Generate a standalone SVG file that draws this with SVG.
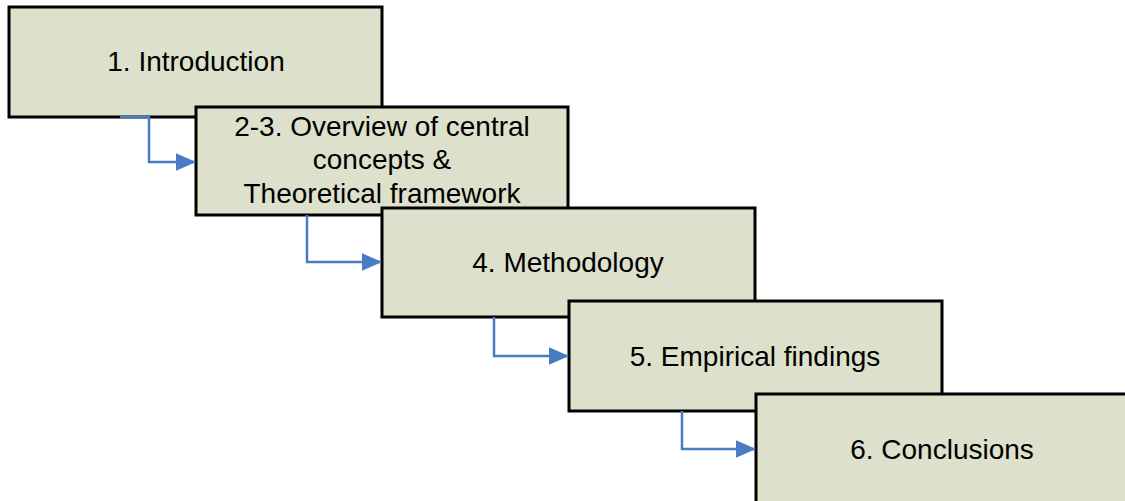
<svg xmlns="http://www.w3.org/2000/svg" width="1125" height="501" viewBox="0 0 1125 501">
  <style>
    .box { fill: #dde0cb; stroke: #000; stroke-width: 3; }
    .lbl { font-family: "Liberation Sans", Arial, sans-serif; font-size: 28px; fill: #000; text-anchor: middle; }
    .link { fill: none; stroke: #4a7cc4; stroke-width: 2.5; }
  </style>
  <defs>
    <marker id="arrow" markerWidth="8" markerHeight="7" refX="7.6" refY="3.5" orient="auto" markerUnits="strokeWidth">
      <path d="M0,0 L8,3.5 L0,7 Z" fill="#4a7cc4"/>
    </marker>
  </defs>
  <rect width="1125" height="501" fill="#fff"/>

  <g id="node-introduction">
    <rect class="box" x="9" y="7" width="373" height="110"/>
    <text class="lbl" x="196" y="71">1. Introduction</text>
  </g>

  <g id="node-overview">
    <rect class="box" x="196" y="107" width="372" height="108"/>
    <text class="lbl" x="382" y="136">2-3. Overview of central</text>
    <text class="lbl" x="382" y="169">concepts &amp;</text>
    <text class="lbl" x="382" y="203">Theoretical framework</text>
  </g>

  <g id="node-methodology">
    <rect class="box" x="382" y="208" width="373" height="109"/>
    <text class="lbl" x="568" y="272">4. Methodology</text>
  </g>

  <g id="node-findings">
    <rect class="box" x="569" y="301" width="373" height="110"/>
    <text class="lbl" x="755" y="366">5. Empirical findings</text>
  </g>

  <g id="node-conclusions">
    <rect class="box" x="756" y="394" width="373" height="112"/>
    <text class="lbl" x="942" y="459">6. Conclusions</text>
  </g>

  <g id="connectors">
    <path class="link" d="M120,117 H149 V162 H195" marker-end="url(#arrow)"/>
    <path class="link" d="M307,215 V262 H381" marker-end="url(#arrow)"/>
    <path class="link" d="M494,317 V356 H568" marker-end="url(#arrow)"/>
    <path class="link" d="M682,411 V449 H755" marker-end="url(#arrow)"/>
  </g>
</svg>
